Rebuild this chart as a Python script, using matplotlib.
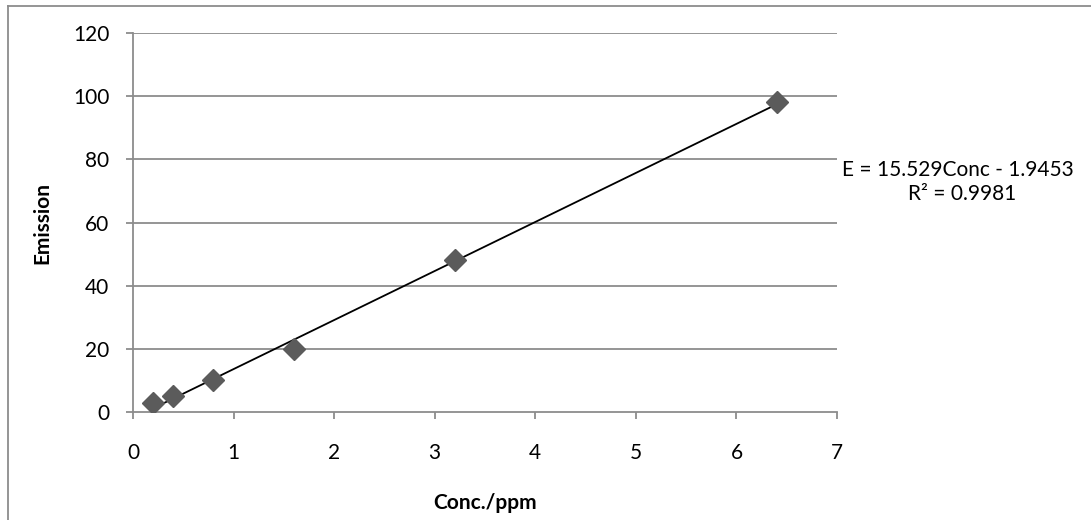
import matplotlib.pyplot as plt
from matplotlib.lines import Line2D
import numpy as np

plt.rcParams['font.family'] = ['Lato', 'DejaVu Sans']

# 数据
conc = [0.2, 0.4, 0.8, 1.6, 3.2, 6.4]
emission = [3, 5, 10, 20, 48, 98]
slope = 15.529
intercept = -1.9453
r2 = 0.9981
x_ticks = [0, 1, 2, 3, 4, 5, 6, 7]
y_ticks = [0, 20, 40, 60, 80, 100, 120]

fs = 15

fig = plt.figure(figsize=(10.91, 5.20), dpi=100)
ax = fig.add_axes([0.1219, 0.2077, 0.6453, 0.7288])

grid_c = '#8c8c8c'
for yv in y_ticks[1:]:
    ax.axhline(yv, color=grid_c, lw=1.3, zorder=1)

# 趋势线
xf = np.array([conc[0], conc[-1]])
ax.plot(xf, slope * xf + intercept, color='black', lw=1.3, zorder=2)
ax.plot(conc, emission, ls='none', marker='D', ms=11, color='#5b5b5b', zorder=3)

ax.set_xlim(0, 7)
ax.set_ylim(0, 120)
ax.set_xticks(x_ticks)
ax.set_yticks(y_ticks)
for s in ['top', 'right']:
    ax.spines[s].set_visible(False)
for s in ['left', 'bottom']:
    ax.spines[s].set_color(grid_c)
    ax.spines[s].set_linewidth(1.3)
ax.tick_params(colors=grid_c, width=1.3, length=5, labelcolor='black', labelsize=fs)
ax.tick_params(axis='x', pad=17)
ax.tick_params(axis='y', pad=12)

ax.set_xlabel('Conc./ppm', fontsize=fs, fontweight='bold', labelpad=22)
ax.set_ylabel('Emission', fontsize=fs, fontweight='bold', labelpad=15)

fig.text(0.878, 0.673, 'E = 15.529Conc - 1.9453', fontsize=fs, ha='center', va='center')
fig.text(0.882, 0.627, 'R² = %.4f' % r2, fontsize=fs, ha='center', va='center')

# 外框 (只有上和左)
fig.add_artist(Line2D([8 / 1091, 1], [1 - 6 / 520, 1 - 6 / 520], color='#8c8c8c', lw=1.3,
                      transform=fig.transFigure))
fig.add_artist(Line2D([8 / 1091, 8 / 1091], [0, 1 - 6 / 520], color='#8c8c8c', lw=1.3,
                      transform=fig.transFigure))

fig.savefig('out.png', dpi=100)
